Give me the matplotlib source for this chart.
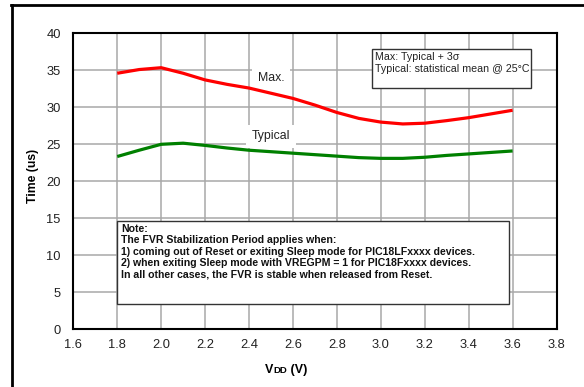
import matplotlib
matplotlib.use("Agg")
import matplotlib.pyplot as plt
from matplotlib.lines import Line2D

plt.rcParams['font.family'] = ['Liberation Sans', 'DejaVu Sans']

# FVR stabilization time vs supply voltage
vdd = [1.8, 1.9, 2.0, 2.1, 2.2, 2.3, 2.4, 2.5, 2.6, 2.7, 2.8, 2.9, 3.0, 3.1, 3.2, 3.3, 3.4, 3.5, 3.6]
t_max = [34.6, 35.1, 35.35, 34.6, 33.7, 33.1, 32.6, 31.9, 31.2, 30.3, 29.3, 28.5, 28.0, 27.75, 27.85, 28.2, 28.6, 29.1, 29.6]
t_typ = [23.35, 24.2, 25.0, 25.15, 24.85, 24.5, 24.2, 24.0, 23.8, 23.6, 23.4, 23.2, 23.1, 23.1, 23.25, 23.5, 23.7, 23.9, 24.1]

xticks = [1.6, 1.8, 2.0, 2.2, 2.4, 2.6, 2.8, 3.0, 3.2, 3.4, 3.6, 3.8]
yticks = [0, 5, 10, 15, 20, 25, 30, 35, 40]

note_lines = [
    "Note:",
    "The FVR Stabilization Period applies when:",
    "1) coming out of Reset or exiting Sleep mode for PIC18LFxxxx devices.",
    "2) when exiting Sleep mode with VREGPM = 1 for PIC18Fxxxx devices.",
    "In all other cases, the FVR is stable when released from Reset.",
]
legend_lines = ["Max: Typical + 3\u03c3", "Typical: statistical mean @ 25\u00b0C"]

W, H = 584, 387
fig = plt.figure(figsize=(W / 100, H / 100), dpi=100)
ax = fig.add_axes([0.1255, 0.149, 0.8275, 0.765])

ax.plot(vdd, t_max, color='#ff0000', lw=2.3, solid_capstyle='butt', zorder=3)
ax.plot(vdd, t_typ, color='#008000', lw=2.3, solid_capstyle='butt', zorder=3)

ax.set_xlim(1.6, 3.8)
ax.set_ylim(0, 40)
ax.set_xticks(xticks)
ax.set_yticks(yticks)
ax.set_xticklabels(["%.1f" % v for v in xticks])
ax.tick_params(length=0, labelsize=9.3, colors='#222222')
ax.tick_params(axis='x', pad=7)
ax.tick_params(axis='y', pad=9)
ax.grid(True, color='#a8a8a8', lw=1.1)
ax.set_axisbelow(True)
for s in ax.spines.values():
    s.set_linewidth(1.5)
    s.set_color('black')
    s.set_zorder(5)

# curve labels with white background (kept under the curves)
lbl_box = dict(facecolor='white', edgecolor='none', pad=4)
ax.text(2.5, 34.0, "Max.", ha='center', va='center', fontsize=8.8, color='#222222', bbox=lbl_box, zorder=2.5)
ax.text(2.5, 26.1, "Typical", ha='center', va='center', fontsize=8.8, color='#222222', bbox=lbl_box, zorder=2.5)

# legend box top right
ax.add_patch(plt.Rectangle((2.96, 32.6), 0.725, 5.25, facecolor='white', edgecolor='#333333',
                           lw=1, zorder=4))
ax.text(2.975, 37.45, "\n".join(legend_lines), ha='left', va='top',
        fontsize=7.7, linespacing=1.2, color='#222222', zorder=6)

# note box
ax.add_patch(plt.Rectangle((1.8, 3.4), 1.785, 11.3, facecolor='white', edgecolor='#333333',
                           lw=1, zorder=4))
ax.text(1.818, 14.25, "\n".join(note_lines), ha='left', va='top', fontsize=7.6,
        fontweight='bold', linespacing=1.17, color='#111111', zorder=6)

# axis labels
fig.text(0.057, 0.545, "Time (us)", rotation=90, ha='center', va='center',
         fontsize=8.8, fontweight='bold')

# VDD with small-caps DD on the same baseline
r = fig.canvas.get_renderer()
x0, yb = 265 / W, 1 - 373 / H
parts = [("V", 9), ("DD", 6.8), (" (V)", 9)]
for s, fs in parts:
    t = fig.text(x0, yb, s, ha='left', va='baseline', fontsize=fs, fontweight='bold')
    x0 += t.get_window_extent(r).width / W

# outer frame lines
fig.add_artist(Line2D([12 / W, 12 / W], [0, 1 - 5 / H], transform=fig.transFigure,
                      color='black', lw=2))
fig.add_artist(Line2D([11 / W, 1], [1 - 5 / H, 1 - 5 / H], transform=fig.transFigure,
                      color='black', lw=2))

fig.savefig("out.png", dpi=100)
